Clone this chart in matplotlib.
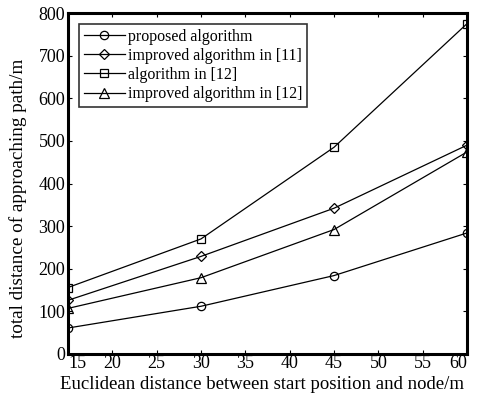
import numpy as np
import matplotlib.pyplot as plt

plt.rcParams['font.family'] = ['Liberation Serif', 'DejaVu Serif']
plt.rcParams['mathtext.fontset'] = 'stix'

x = [15, 30, 45, 60]
proposed = [61, 112, 184, 284]
improved11 = [126, 229, 342, 490]
alg12 = [156, 270, 485, 775]
improved12 = [107, 179, 292, 474]

fig = plt.figure(figsize=(4.79, 4.00), dpi=100)
ax = fig.add_axes([0.142, 0.115, 0.833, 0.8525])

lw = 0.9
ax.plot(x, proposed, '-o', color='k', mfc='none', lw=lw, ms=6, mew=0.9, label='proposed algorithm')
ax.plot(x, improved11, '-D', color='k', mfc='none', lw=lw, ms=5, mew=0.9, label='improved algorithm in [11]')
ax.plot(x, alg12, '-s', color='k', mfc='none', lw=lw, ms=6, mew=0.9, label='algorithm in [12]')
ax.plot(x, improved12, '-^', color='k', mfc='none', lw=lw, ms=7, mew=0.9, label='improved algorithm in [12]')

ax.set_xlim(15, 60)
ax.set_ylim(0, 800)
ax.set_xticks(np.arange(15, 61, 5))
ax.set_yticks(np.arange(0, 801, 100))
ax.tick_params(direction='in', top=True, right=True, labelsize=13, length=3, width=0.8)
ax.tick_params(axis='x', pad=1)
ax.tick_params(axis='y', pad=2)
for s in ax.spines.values():
    s.set_linewidth(2.2)

# end labels sit inside the axis range, like the original
xtl = ax.get_xticklabels()
xtl[0].set_ha('left')
xtl[-1].set_ha('right')

ax.set_xlabel('Euclidean distance between start position and node/m', fontsize=13.5)
ax.xaxis.set_label_coords(0.486, -0.065)
ax.set_ylabel('total distance of approaching path/m', fontsize=13.8)
ax.yaxis.set_label_coords(-0.103, 0.457)

leg = ax.legend(loc='upper left', fontsize=11.5, frameon=True, fancybox=False,
                edgecolor='k', handlelength=2.6, handletextpad=0.2,
                borderpad=0.28, labelspacing=0.2, borderaxespad=0.7)
leg.get_frame().set_linewidth(1.2)

fig.savefig('out.png', dpi=100)
